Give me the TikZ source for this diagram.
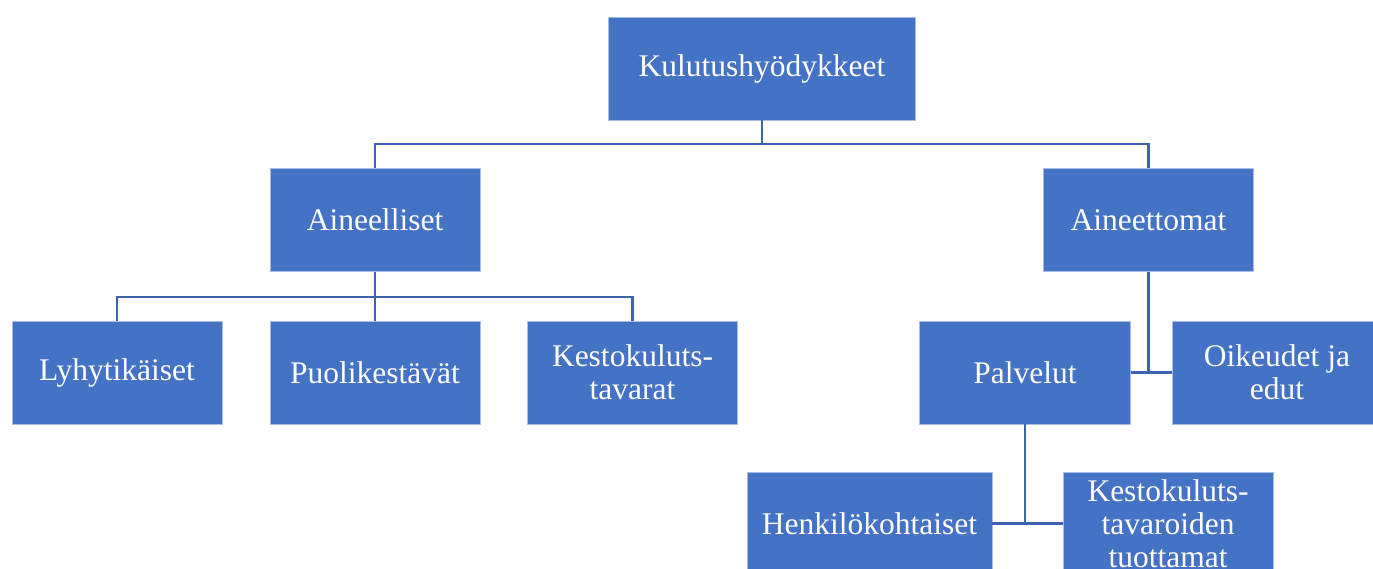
\documentclass[tikz,border=0pt]{standalone}
\usepackage{fontspec}
\setmainfont{Liberation Serif}
\definecolor{boxblue}{HTML}{4472C4}
\definecolor{lineblue}{HTML}{3C64AE}
\definecolor{boxedge}{HTML}{A9BDE4}
\begin{document}
\begin{tikzpicture}[x=1pt,y=-1pt,
  orgbox/.style={rectangle, fill=boxblue, draw=boxedge, line width=0.8pt,
    inner sep=0pt, minimum height=103pt, text=white, align=center,
    font=\fontsize{31.5}{33}\selectfont},
  conn/.style={draw=lineblue, line width=2.6pt}]
\useasboundingbox (0,0) rectangle (1373,568);
\clip (0,0) rectangle (1373,568);
% level 1
\node[orgbox, minimum width=307pt] (top) at (762,68.5) {Kulutushyödykkeet};
% level 2
\node[orgbox, minimum width=210pt] (ain) at (375,220) {Aineelliset};
\node[orgbox, minimum width=210pt] (ait) at (1148.5,220) {Aineettomat};
% level 3 left
\node[orgbox, minimum width=210pt] (lyh) at (117,372.5) {Lyhytikäiset};
\node[orgbox, minimum width=210pt] (puo) at (375,372.5) {Puolikestävät};
\node[orgbox, minimum width=210pt] (kes) at (632.5,372.5) {Kestokuluts-\\tavarat};
% level 3 right
\node[orgbox, minimum width=211pt] (palv) at (1025,372.5) {Palvelut};
\node[orgbox, minimum width=210pt] (oik) at (1277,372.5) {Oikeudet ja\\edut};
% level 4
\node[orgbox, minimum width=245pt] (henk) at (869.5,523.5) {Henkilökohtaiset};
\node[orgbox, minimum width=210pt] (ktt) at (1168,523.5) {Kestokuluts-\\tavaroiden\\tuottamat};
% connectors
\draw[conn] (top.south) -- (top.south |- 0,144) -| (ain.north);
\draw[conn] (top.south |- 0,144) -| (ait.north);
\draw[conn] (ain.south) -- (ain.south |- 0,297) -| (lyh.north);
\draw[conn] (ain.south |- 0,297) -| (kes.north);
\draw[conn] (ain.south) -- (puo.north);
\draw[conn] (ait.south) -- (ait.south |- palv.east);
\draw[conn] (palv.east) -- (oik.west);
\draw[conn] (palv.south) -- (palv.south |- henk.east);
\draw[conn] (henk.east) -- (ktt.west);
\end{tikzpicture}
\end{document}
